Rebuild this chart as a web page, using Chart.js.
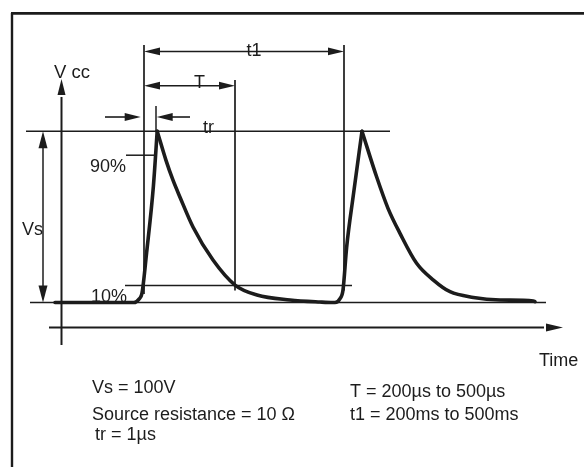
<!DOCTYPE html>
<html><head><meta charset="utf-8">
<script src="https://cdn.jsdelivr.net/npm/chart.js@4/dist/chart.umd.min.js"></script>
<style>html,body{margin:0;padding:0;background:#fff;overflow:hidden}#wrap{position:relative;width:584px;height:467px}</style>
</head><body><div id="wrap"><canvas id="c" width="584" height="467"></canvas></div>
<script>
// Schematic time axis (t1 = 100 units) and voltage as % of Vs
const waveTime  = [-44.5, -5, -2.5, -1, 1.3, 4.7, 6.6, 11, 14.5, 18, 24.5, 34.5, 45.5, 56.5, 73, 88, 94.5,
                   95.5, 98, 99.5, 101.3, 104.7, 109, 116.3, 122, 128, 136.3, 144.7, 153, 164.7, 178, 194.7, 195.5];
const waveLevel = [0, 0, 2, 5.5, 29, 68, 100, 83, 71.4, 61.5, 44.1, 24.8, 10.2, 4.4, 1.5, 0.3, 0,
                   0, 2.3, 7.3, 32, 63, 100, 73.4, 55, 40.4, 22.9, 13.1, 6.3, 3, 1.5, 0.9, 0.5];
const levels = [0, 10, 86, 100];          // baseline, 10 %, 90 % mark (as drawn), Vs
const markerTimes = [0, 45.5, 100, 6.35]; // pulse start, end of T, end of t1, end of tr
const diagramLabels = ['V cc', 't1', 'T', 'tr', '90%', 'Vs', '10%', 'Time'];
const notesLeft  = ['Vs = 100V', 'Source resistance = 10 \u03A9', 'tr = 1\u00B5s'];
const notesRight = ['T = 200\u00B5s to 500\u00B5s', 't1 = 200ms to 500ms'];

const INK = '#1c1c1c';
const FONT = '"Liberation Sans", Arial, sans-serif';

// split the waveform at its peaks so the peaks stay sharp while the curves are smooth
const points = waveTime.map((t, i) => ({ x: t, y: waveLevel[i] }));
const cuts = [0];
waveLevel.forEach((v, i) => { if (v === Math.max(...waveLevel)) cuts.push(i); });
cuts.push(points.length - 1);
const datasets = [];
for (let k = 0; k < cuts.length - 1; k++) {
  datasets.push({
    data: points.slice(cuts[k], cuts[k + 1] + 1),
    showLine: true, borderColor: INK, borderWidth: 3.6, pointRadius: 0,
    cubicInterpolationMode: 'monotone', borderJoinStyle: 'round', borderCapStyle: 'round'
  });
}

const diagram = {
  id: 'diagram',
  beforeDatasetsDraw(chart) {
    const ctx = chart.ctx, X = v => chart.scales.x.getPixelForValue(v), Y = v => chart.scales.y.getPixelForValue(v);
    const [t0, tT, t1, tr] = markerTimes;
    const [l0, l10, l90, l100] = levels;
    ctx.save();
    ctx.strokeStyle = INK; ctx.fillStyle = INK; ctx.lineCap = 'butt';
    const line = (x1, y1, x2, y2, w) => { ctx.lineWidth = w; ctx.beginPath(); ctx.moveTo(x1, y1); ctx.lineTo(x2, y2); ctx.stroke(); };
    const head = (tx, ty, dx, dy, len, hw) => {
      const bx = tx - dx * len, by = ty - dy * len;
      ctx.beginPath(); ctx.moveTo(tx, ty); ctx.lineTo(bx - dy * hw, by + dx * hw); ctx.lineTo(bx + dy * hw, by - dx * hw); ctx.closePath(); ctx.fill();
    };
    // frame
    line(12, 467, 12, 13, 2.4); line(11, 13.3, 584, 13.3, 2.8);
    // level lines
    line(X(-57), Y(l0), X(201), Y(l0), 1.5);
    line(X(-9.5), Y(l10), X(104), Y(l10), 1.5);
    line(X(-9), Y(l90), X(t0 + 6), Y(l90), 1.5);
    line(X(-59), Y(l100), X(123), Y(l100), 1.5);
    // axes
    line(X(-41.25), Y(-24.8), X(-41.25), Y(120), 2);
    head(X(-41.25), Y(130.5), 0, -1, 16, 4);
    line(X(-47.5), Y(-14.6), X(200), Y(-14.6), 2);
    head(X(209.5), Y(-14.6), 1, 0, 17, 4);
    // Vs dimension
    line(X(-50.5), Y(l0 + 5), X(-50.5), Y(l100 - 5), 1.5);
    head(X(-50.5), Y(l100), 0, -1, 17, 4.5);
    head(X(-50.5), Y(l0), 0, 1, 17, 4.5);
    // marker verticals
    line(X(t0), Y(5), X(t0), Y(150.3), 1.7);
    line(X(tT), Y(7), X(tT), Y(129.9), 1.7);
    line(X(t1), Y(7), X(t1), Y(150.3), 1.7);
    line(X(tr - 0.35), Y(l100), X(tr - 0.35), Y(114.7), 1.5);
    // t1 and T dimensions
    line(X(t0 + 3), Y(146.6), X(t1 - 3), Y(146.6), 1.5);
    head(X(t0), Y(146.6), -1, 0, 16, 3.8); head(X(t1), Y(146.6), 1, 0, 16, 3.8);
    line(X(t0 + 3), Y(126.6), X(tT - 3), Y(126.6), 1.5);
    head(X(t0), Y(126.6), -1, 0, 16, 3.8); head(X(tT), Y(126.6), 1, 0, 16, 3.8);
    // tr arrows (outside)
    line(X(-19.5), Y(108.3), X(-8), Y(108.3), 1.6);
    head(X(t0 - 1.65), Y(108.3), 1, 0, 16, 4);
    line(X(23), Y(108.3), X(14), Y(108.3), 1.6);
    head(X(tr), Y(108.3), -1, 0, 16, 4);
    ctx.restore();
  },
  afterDatasetsDraw(chart) {
    const ctx = chart.ctx;
    ctx.save();
    ctx.fillStyle = INK; ctx.textBaseline = 'alphabetic';
    const txt = (s, x, y, size, align) => { ctx.font = size + 'px ' + FONT; ctx.textAlign = align || 'left'; ctx.fillText(s, x, y); };
    const [vcc, lt1, lT, ltr, l90, lVs, l10, lTime] = diagramLabels;
    txt(vcc, 54, 77.5, 18.5);
    txt(lt1, 254, 56, 18, 'center');
    txt(lT, 199.5, 88, 18, 'center');
    txt(ltr, 203, 133, 18);
    txt(l90, 90, 172, 18);
    txt(lVs, 22, 235, 18);
    txt(l10, 91, 302, 18);
    txt(lTime, 539, 366, 18);
    txt(notesLeft[0], 92, 393, 18);
    txt(notesLeft[1], 92, 420, 18);
    txt(notesLeft[2], 95, 440, 18);
    txt(notesRight[0], 350, 397, 18);
    txt(notesRight[1], 350, 420, 18);
    ctx.restore();
  }
};

new Chart(document.getElementById('c'), {
  type: 'scatter',
  data: { datasets },
  options: {
    responsive: false, animation: false, devicePixelRatio: 1,
    layout: { padding: 0 },
    plugins: { legend: { display: false }, tooltip: { enabled: false } },
    scales: {
      x: { type: 'linear', min: -72, max: 220, display: false },
      y: { type: 'linear', min: -96, max: 176.6, display: false }
    }
  },
  plugins: [diagram]
});
</script></body></html>
